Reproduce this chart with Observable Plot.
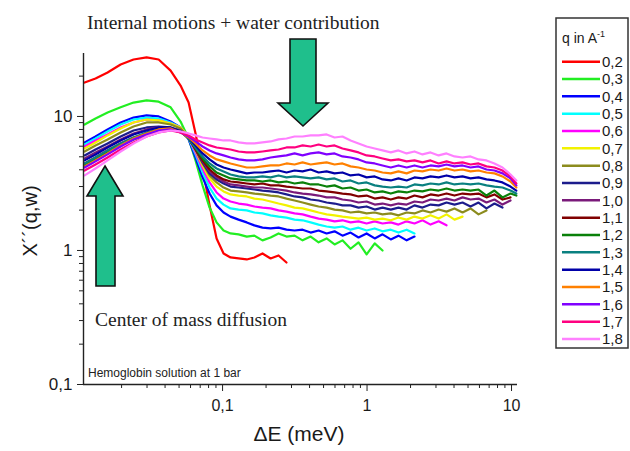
<!DOCTYPE html>
<html><head><meta charset="utf-8">
<script src="https://cdn.jsdelivr.net/npm/d3@7"></script>
<script src="https://cdn.jsdelivr.net/npm/@observablehq/plot@0.6"></script>
<style>
body{margin:0;background:#fff;}
#wrap{position:relative;width:630px;height:451px;overflow:hidden;background:#fff;}
#wrap svg{position:absolute;left:0;top:0;}
</style></head><body><div id="wrap"></div>
<script>
// energy transfer grid (meV)
const energy = [0.0111,0.0132,0.016,0.0197,0.0242,0.0298,0.0361,0.0437,0.0512,0.0582,0.065,0.0727,0.0813,0.0909,0.1016,0.1135,0.129,0.147,0.166,0.189,0.215,0.244,0.277,0.315,0.358,0.407,0.462,0.525,0.596,0.676,0.769,0.873,0.993,1.13,1.28,1.46,1.65,1.88,2.13,2.42,2.75,3.13,3.55,4.03,4.58,5.2,5.91,6.71,7.62,8.66,9.84,10.8];

const qLabels = ["0,2","0,3","0,4","0,5","0,6","0,7","0,8","0,9","1,0","1,1","1,2","1,3","1,4","1,5","1,6","1,7","1,8"];
const qColors = ["#ff0000","#22ee22","#0000ff","#00ffff","#ff00ff","#f2f200","#8c8c1e","#1c1c8c","#7a1a7a","#800000","#0a800a","#0a8080","#0000a8","#ff8000","#8000ff","#ff0080","#ff80ff"];

const chi02 = [17.9,19.2,21.3,24.4,26.6,27.6,26.6,22.0,17.0,12.7,7.47,4.09,2.17,1.23,0.95,0.887,0.872,0.857,0.887,0.95,0.872,0.918,0.814];
const chi03 = [8.71,9.65,10.7,11.7,12.7,13.2,12.9,11.7,9.17,6.85,4.70,3.06,2.09,1.62,1.41,1.34,1.32,1.27,1.29,1.19,1.25,1.34,1.27,1.29,1.19,1.27,1.15,1.23,1.11,1.19,1.03,1.15,0.934,1.13,1.00];
const chi04 = [6.40,7.09,8.00,9.02,9.81,10.2,10.0,9.17,8.28,6.74,4.94,3.51,2.66,2.17,1.92,1.79,1.70,1.62,1.54,1.48,1.46,1.48,1.43,1.41,1.43,1.36,1.41,1.34,1.39,1.29,1.36,1.25,1.34,1.23,1.32,1.21,1.29,1.19,1.27];
const chi05 = [6.18,6.85,7.73,8.71,9.49,9.81,9.65,9.02,8.28,6.85,5.21,3.82,2.95,2.44,2.20,2.06,2.02,1.99,1.92,1.89,1.83,1.79,1.76,1.70,1.68,1.62,1.56,1.51,1.48,1.51,1.43,1.48,1.41,1.46,1.39,1.43,1.36,1.43,1.34];
const chi06 = [5.97,6.62,7.34,8.28,9.02,9.49,9.34,8.86,8.28,6.97,5.39,4.09,3.22,2.71,2.44,2.32,2.24,2.20,2.13,2.09,2.06,1.99,1.95,1.89,1.86,1.79,1.73,1.70,1.65,1.68,1.62,1.65,1.59,1.65,1.59,1.62,1.56,1.65,1.59,1.68,1.56,1.65,1.54];
const chi07 = [5.77,6.40,7.22,8.14,9.02,9.49,9.34,8.86,8.28,7.09,5.58,4.31,3.45,3.00,2.76,2.62,2.57,2.53,2.44,2.40,2.32,2.24,2.17,2.09,2.06,1.99,1.92,1.86,1.83,1.79,1.76,1.73,1.76,1.70,1.73,1.68,1.76,1.70,1.79,1.73,1.83,1.73,1.86,1.70,1.79];
const chi08 = [5.48,6.08,6.74,7.60,8.42,9.02,9.02,8.71,8.14,7.09,5.67,4.46,3.63,3.22,2.95,2.80,2.76,2.71,2.66,2.62,2.57,2.53,2.44,2.36,2.28,2.20,2.13,2.09,2.02,1.99,1.92,1.95,1.89,1.92,1.86,1.89,1.83,1.92,1.89,1.99,1.92,2.02,1.95,2.06,1.92,2.06,1.86,1.99];
const chi09 = [5.12,5.67,6.29,7.09,7.86,8.28,8.42,8.28,7.86,6.97,5.67,4.54,3.76,3.39,3.16,3.00,2.95,2.90,2.85,2.80,2.76,2.71,2.62,2.53,2.49,2.40,2.36,2.28,2.24,2.17,2.17,2.09,2.13,2.02,2.09,2.02,2.09,2.02,2.17,2.09,2.20,2.17,2.28,2.20,2.28,2.13,2.28,2.06,2.24,2.09];
const chi10 = [4.86,5.39,5.97,6.74,7.47,8.00,8.28,8.14,7.86,6.97,5.67,4.62,3.89,3.51,3.27,3.11,3.06,3.00,2.95,2.95,2.90,2.85,2.80,2.71,2.66,2.62,2.57,2.49,2.49,2.40,2.36,2.28,2.32,2.20,2.24,2.17,2.24,2.20,2.32,2.28,2.40,2.36,2.44,2.36,2.49,2.40,2.44,2.28,2.40,2.20,2.36];
const chi11 = [4.46,4.94,5.58,6.29,6.97,7.47,8.00,8.00,7.73,6.85,5.67,4.70,4.02,3.63,3.39,3.27,3.22,3.16,3.11,3.16,3.06,3.06,3.00,2.95,2.90,2.90,2.80,2.76,2.71,2.66,2.62,2.53,2.57,2.44,2.49,2.40,2.49,2.44,2.57,2.49,2.62,2.57,2.66,2.57,2.66,2.62,2.66,2.49,2.62,2.40,2.49];
const chi12 = [4.31,4.78,5.39,6.08,6.74,7.34,7.86,8.00,7.73,6.85,5.77,4.86,4.24,3.82,3.63,3.45,3.39,3.33,3.33,3.27,3.33,3.22,3.27,3.16,3.22,3.11,3.11,3.00,3.06,2.90,2.95,2.80,2.85,2.71,2.76,2.66,2.76,2.71,2.80,2.76,2.85,2.80,2.90,2.80,2.85,2.80,2.85,2.57,2.80,2.49,2.66,2.57];
const chi13 = [4.46,4.94,5.58,6.29,6.97,7.60,8.00,8.14,7.73,6.85,5.87,5.03,4.46,4.09,3.89,3.69,3.57,3.51,3.51,3.57,3.51,3.63,3.51,3.57,3.51,3.45,3.51,3.39,3.45,3.27,3.33,3.16,3.22,3.06,3.00,2.95,3.00,2.95,3.11,3.06,3.16,3.11,3.22,3.11,3.16,3.11,3.16,3.06,3.00,2.95,2.80,2.66];
const chi14 = [4.70,5.21,5.87,6.62,7.34,7.86,8.28,8.28,7.73,6.97,6.08,5.30,4.78,4.38,4.16,4.02,3.89,3.76,3.82,3.82,3.89,3.95,3.82,3.95,3.89,4.02,3.82,3.89,3.76,3.82,3.63,3.69,3.51,3.57,3.39,3.33,3.45,3.33,3.51,3.45,3.57,3.51,3.63,3.51,3.57,3.45,3.51,3.39,3.33,3.22,3.00,2.80];
const chi15 = [4.24,4.70,5.30,6.08,6.85,7.47,8.00,8.14,7.60,6.97,6.29,5.58,5.12,4.78,4.62,4.46,4.31,4.16,4.16,4.24,4.31,4.31,4.46,4.38,4.54,4.38,4.46,4.54,4.38,4.46,4.24,4.16,4.02,3.95,3.82,3.76,3.89,3.76,3.95,3.89,4.02,3.95,4.09,3.95,4.02,3.89,3.95,3.82,3.76,3.57,3.27,2.95];
const chi16 = [4.16,4.62,5.21,5.97,6.74,7.34,7.86,8.00,7.60,7.09,6.51,5.97,5.58,5.30,5.12,4.94,4.78,4.70,4.70,4.78,4.94,5.03,5.12,5.30,5.12,5.30,5.39,5.21,5.30,5.03,4.94,4.78,4.54,4.46,4.31,4.16,4.31,4.16,4.31,4.16,4.31,4.24,4.38,4.24,4.31,4.16,4.24,4.02,3.95,3.76,3.45,3.06];
const chi17 = [3.95,4.38,4.94,5.67,6.40,7.09,7.60,7.86,7.60,7.22,6.74,6.40,6.08,5.87,5.77,5.67,5.48,5.39,5.39,5.48,5.58,5.67,5.87,5.87,6.08,5.97,6.18,5.97,6.08,5.77,5.58,5.39,5.12,5.03,4.86,4.70,4.78,4.62,4.70,4.54,4.70,4.46,4.62,4.46,4.54,4.38,4.46,4.24,4.16,3.95,3.57,3.16];
const chi18 = [3.63,4.09,4.70,5.48,6.29,7.09,7.60,7.86,7.73,7.47,7.22,6.97,6.85,6.74,6.62,6.62,6.40,6.29,6.29,6.40,6.51,6.74,6.85,7.09,7.09,7.22,7.22,7.34,6.97,7.09,6.62,6.29,5.97,5.77,5.58,5.39,5.58,5.30,5.48,5.21,5.39,5.12,5.30,5.03,4.94,5.03,4.78,4.70,4.46,4.16,3.69,3.33];

const xMajor = [0.1, 1, 10];
const xMinor = [0.02,0.03,0.04,0.05,0.06,0.07,0.08,0.09,0.2,0.3,0.4,0.5,0.6,0.7,0.8,0.9,2,3,4,5,6,7,8,9];
const yMajor = [0.1, 1, 10];
const yMinor = [0.2,0.3,0.4,0.5,0.6,0.7,0.8,0.9,2,3,4,5,6,7,8,9,20];

const series = [chi02,chi03,chi04,chi05,chi06,chi07,chi08,chi09,chi10,chi11,chi12,chi13,chi14,chi15,chi16,chi17,chi18];
const rows = series.flatMap((vals, k) => vals.map((v, i) => ({E: energy[i], chi: v, q: qLabels[k]})));

const xDom = [0.0109, 11];
const yDom = [0.1, 29.5];
const comma = d => String(d).replace(".", ",");
const font = "Liberation Sans, Arial, sans-serif";

const plot = Plot.plot({
  width: 630, height: 451,
  marginLeft: 83, marginRight: 113, marginTop: 53, marginBottom: 67,
  x: {type: "log", domain: xDom},
  y: {type: "log", domain: yDom},
  color: {domain: qLabels, range: qColors},
  style: {fontFamily: font, fontSize: "16px", color: "#1a1a1a", background: "transparent", overflow: "visible"},
  marks: [
    Plot.line(rows, {x: "E", y: "chi", z: "q", stroke: "q", strokeWidth: 2.2, curve: "linear"}),
    Plot.ruleY([yDom[0]], {x1: xDom[0], x2: xDom[1], stroke: "#222", strokeWidth: 1.4}),
    Plot.ruleX([xDom[0]], {y1: yDom[0], y2: yDom[1], stroke: "#222", strokeWidth: 1.4}),
    Plot.axisX(xMajor, {anchor: "bottom", tickSize: 7, tickPadding: 8, tickFormat: comma, label: null, fontSize: 16, stroke: "#222"}),
    Plot.axisX(xMinor, {anchor: "bottom", tickSize: 4, tickFormat: () => "", label: null, stroke: "#222"}),
    Plot.axisY(yMajor, {anchor: "left", tickSize: 6, tickPadding: 5, tickFormat: comma, label: null, fontSize: 17, stroke: "#222"}),
    Plot.axisY(yMinor, {anchor: "left", tickSize: 4, tickFormat: () => "", label: null, stroke: "#222"})
  ]
});
const wrap = document.getElementById("wrap");
wrap.appendChild(plot);

// overlay: annotations, arrows, legend
const ns = "http://www.w3.org/2000/svg";
const ov = document.createElementNS(ns, "svg");
ov.setAttribute("width", 630); ov.setAttribute("height", 451);
function el(tag, attrs, text) {
  const e = document.createElementNS(ns, tag);
  for (const k in attrs) e.setAttribute(k, attrs[k]);
  if (text != null) e.textContent = text;
  ov.appendChild(e);
  return e;
}
const serif = "Liberation Serif, Times New Roman, serif";
el("text", {x: 87, y: 29, "font-family": serif, "font-size": 19.5, fill: "#222"}, "Internal motions + water contribution");
el("text", {x: 95, y: 326, "font-family": serif, "font-size": 19.5, fill: "#222"}, "Center of mass diffusion");
el("text", {x: 88, y: 377, "font-family": font, "font-size": 12, fill: "#222"}, "Hemoglobin solution at 1 bar");
el("text", {x: 299, y: 441, "font-family": font, "font-size": 21, fill: "#1a1a1a", "text-anchor": "middle"}, "ΔE (meV)");
el("text", {x: 0, y: 0, "font-family": font, "font-size": 20, fill: "#1a1a1a", "text-anchor": "middle", transform: "translate(37,221) rotate(-90)"}, "X´´(q,w)");

const arrowFill = "#1fbf8c";
el("polygon", {points: "290,39 316,39 316,103 328,103 303,126 278,103 290,103", fill: arrowFill, stroke: "#111", "stroke-width": 1.6, "stroke-linejoin": "miter"});
el("polygon", {points: "105,166 123,196 115,196 115,286 96,286 96,196 87,196", fill: arrowFill, stroke: "#111", "stroke-width": 1.6, "stroke-linejoin": "miter"});

// legend box
el("rect", {x: 556, y: 18, width: 72, height: 330, fill: "#fff", stroke: "#333", "stroke-width": 1.5});
const t = el("text", {x: 562, y: 43, "font-family": font, "font-size": 14, fill: "#1a1a1a"}, "q in A");
const sup = document.createElementNS(ns, "tspan");
sup.setAttribute("dy", -6); sup.setAttribute("font-size", 9); sup.textContent = "-1";
t.appendChild(sup);
qLabels.forEach((lab, i) => {
  const yy = 61.7 + i * 17.33;
  el("line", {x1: 562, x2: 600, y1: yy, y2: yy, stroke: qColors[i], "stroke-width": 2.5});
  el("text", {x: 602, y: yy + 5.4, "font-family": font, "font-size": 15, fill: "#1a1a1a"}, lab);
});
wrap.appendChild(ov);
</script>
</body></html>
